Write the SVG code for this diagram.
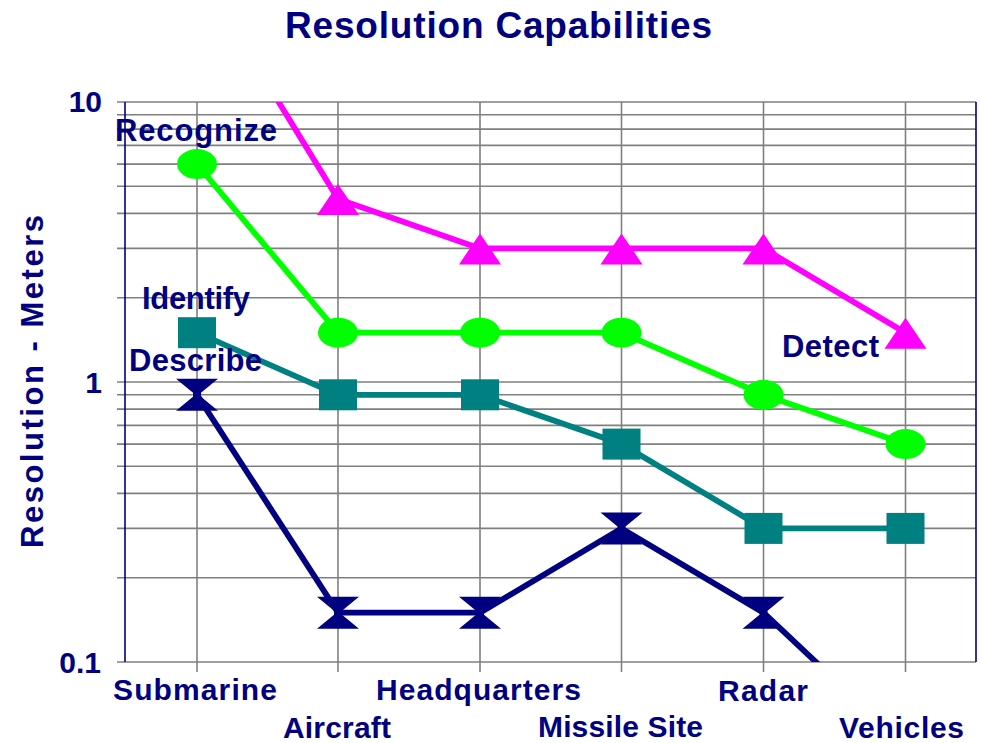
<svg xmlns="http://www.w3.org/2000/svg" xmlns:xlink="http://www.w3.org/1999/xlink" width="981" height="743" viewBox="0 0 981 743">
<style>
text{font-family:"Liberation Sans",Arial,sans-serif;font-weight:bold;fill:#000080}
.grid{stroke:#808080;stroke-width:1.6;fill:none}
.axis{stroke:#000080;stroke-width:1.6;fill:none}
.ser{fill:none;stroke-width:5.8;stroke-linejoin:round;stroke-linecap:butt}
.lbl{font-size:31px}
.cat{font-size:30px}
</style>
<defs>
<clipPath id="plot"><rect x="125" y="102" width="851" height="560"/></clipPath>
<ellipse id="circ" cx="0" cy="0" rx="20" ry="15"/>
<rect id="sq" x="-19" y="-15.5" width="38" height="31"/>
<polygon id="tri" points="0,-15 21,16 -21,16"/>
<polygon id="hour" points="-21,-16 21,-16 4,-2 4,2 21,16 -21,16 -4,2 -4,-2"/>
</defs>
<rect width="981" height="743" fill="#fff"/>
<text id="title" x="285" y="38" font-size="37" textLength="427">Resolution Capabilities</text>
<g id="grid">
<path class="grid" d="M117 102H976M117 114.8H976M117 129.1H976M117 145.4H976M117 164.1H976M117 186.3H976M117 213.4H976M117 248.4H976M117 297.7H976M117 382H976M117 394.8H976M117 409.1H976M117 425.4H976M117 444.1H976M117 466.3H976M117 493.4H976M117 528.4H976M117 577.7H976M117 662H976"/>
<path class="grid" d="M197 102V672M338 102V672M480 102V672M621.5 102V672M763.5 102V672M905.5 102V672"/>
<path class="axis" d="M125 102V662M976 102V662"/>
</g>
<g id="yaxis">
<text x="102" y="112" font-size="30" text-anchor="end">10</text>
<text x="102" y="393" font-size="30" text-anchor="end">1</text>
<text x="101" y="673" font-size="30" text-anchor="end">0.1</text>
<text transform="translate(43,548) rotate(-90)" x="0" y="0" font-size="31" textLength="333">Resolution - Meters</text>
</g>
<g id="xaxis">
<text class="cat" x="113" y="700" textLength="164">Submarine</text>
<text class="cat" x="283" y="738" textLength="108">Aircraft</text>
<text class="cat" x="376" y="700" textLength="205">Headquarters</text>
<text class="cat" x="538" y="737" textLength="165">Missile Site</text>
<text class="cat" x="718" y="701" textLength="90">Radar</text>
<text class="cat" x="839" y="738" textLength="125">Vehicles</text>
</g>
<g id="connectors" clip-path="url(#plot)">
<polyline id="detect-line" class="ser" stroke="#FF00FF" points="197,-31.6 338,199.1 480,248.4 621.5,248.4 763.5,248.4 905.5,332.7"/>
<polyline id="recognize-line" class="ser" stroke="#00FF00" points="197,164.1 338,332.7 480,332.7 621.5,332.7 763.5,394.8 905.5,444.1"/>
<polyline id="identify-line" class="ser" stroke="#008080" points="197,332.7 338,394.8 480,394.8 621.5,444.1 763.5,528.4 905.5,528.4"/>
<polyline id="describe-line" class="ser" stroke="#000080" points="197,394.8 338,612.7 480,612.7 621.5,528.4 763.5,612.7 905.5,746.3"/>
</g>
<g id="detect" fill="#FF00FF">
<use xlink:href="#tri" x="338" y="199.1"/>
<use xlink:href="#tri" x="480" y="248.4"/>
<use xlink:href="#tri" x="621.5" y="248.4"/>
<use xlink:href="#tri" x="763.5" y="248.4"/>
<use xlink:href="#tri" x="905.5" y="332.7"/>
</g>
<g id="recognize" fill="#00FF00">
<use xlink:href="#circ" x="197" y="164.1"/>
<use xlink:href="#circ" x="338" y="332.7"/>
<use xlink:href="#circ" x="480" y="332.7"/>
<use xlink:href="#circ" x="621.5" y="332.7"/>
<use xlink:href="#circ" x="763.5" y="394.8"/>
<use xlink:href="#circ" x="905.5" y="444.1"/>
</g>
<g id="identify" fill="#008080">
<use xlink:href="#sq" x="197" y="332.7"/>
<use xlink:href="#sq" x="338" y="394.8"/>
<use xlink:href="#sq" x="480" y="394.8"/>
<use xlink:href="#sq" x="621.5" y="444.1"/>
<use xlink:href="#sq" x="763.5" y="528.4"/>
<use xlink:href="#sq" x="905.5" y="528.4"/>
</g>
<g id="describe" fill="#000080">
<use xlink:href="#hour" x="197" y="394.8"/>
<use xlink:href="#hour" x="338" y="612.7"/>
<use xlink:href="#hour" x="480" y="612.7"/>
<use xlink:href="#hour" x="621.5" y="528.4"/>
<use xlink:href="#hour" x="763.5" y="612.7"/>
</g>
<g id="labels">
<text class="lbl" x="115" y="141" textLength="162">Recognize</text>
<text class="lbl" x="142" y="309" textLength="108">Identify</text>
<text class="lbl" x="129" y="371" textLength="133">Describe</text>
<text class="lbl" x="782" y="357" textLength="97">Detect</text>
</g>
</svg>
